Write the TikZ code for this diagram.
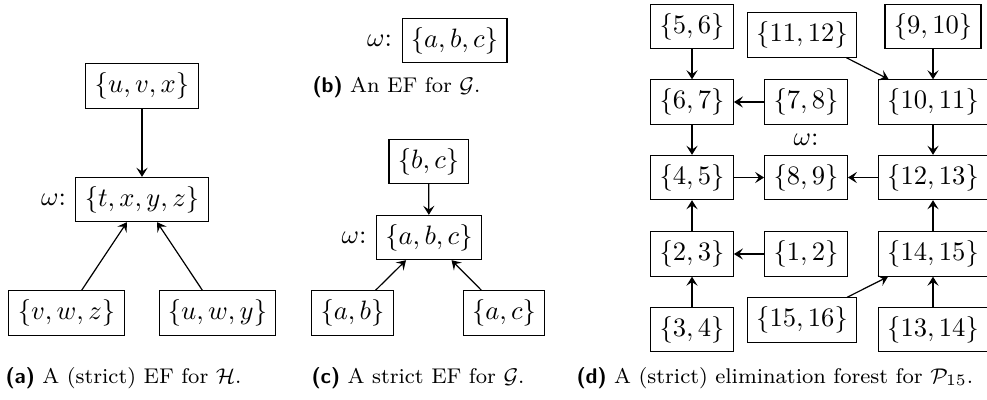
\documentclass[tikz,border=0pt]{standalone}
\usepackage{amsmath}
\usepackage{tikz}
\usetikzlibrary{arrows.meta, positioning}
\tikzset{
  setbox/.style={rectangle, draw, inner sep=3.33pt, line width=0.4pt},
  arrow/.style={-{Stealth[length=3.4pt, width=4.2pt, inset=1.4pt]}, line width=0.45pt},
  subcap/.style={anchor=base west, font=\footnotesize, inner sep=0pt}
}
\newcommand{\subtag}[1]{\textsf{\textbf{(#1)}}}

\begin{document}
\begin{tikzpicture}[x=0.376pt, y=-0.376pt]
  \useasboundingbox (0,0) rectangle (987,399);

  % (a) EF for H
  \node[setbox] (uvx) at (142,86) {$\{u,v,x\}$};
  \node[setbox, label=left:{$\omega$:}] (txyz) at (142,199.5) {$\{t,x,y,z\}$};
  \node[setbox] (vwz) at (66.5,313) {$\{v,w,z\}$};
  \node[setbox] (uwy) at (217.5,313) {$\{u,w,y\}$};
  \draw[arrow] (uvx) -- (txyz);
  \draw[arrow] (vwz) -- (txyz);
  \draw[arrow] (uwy) -- (txyz);
  \node[subcap] (capa) at (5,383) {\subtag{a} A (strict) EF for $\mathcal{H}$.};

  % (b) EF for G
  \node[setbox, label=left:{$\omega$:}] (abcb) at (454.5,40.5) {$\{a,b,c\}$};
  \node[subcap] (capb) at (312,92) {\subtag{b} An EF for $\mathcal{G}$.};

  % (c) strict EF for G
  \node[setbox] (bc) at (428.5,161.5) {$\{b,c\}$};
  \node[setbox, label=left:{$\omega$:}] (abcc) at (429,237.5) {$\{a,b,c\}$};
  \node[setbox] (ab) at (352.5,313) {$\{a,b\}$};
  \node[setbox] (ac) at (504,313) {$\{a,c\}$};
  \draw[arrow] (bc) -- (abcc);
  \draw[arrow] (ab) -- (abcc);
  \draw[arrow] (ac) -- (abcc);
  \node[subcap] (capc) at (311,383) {\subtag{c} A strict EF for $\mathcal{G}$.};

  % (d) elimination forest for P15
  \node[setbox] (p56) at (692,26.5) {$\{5,6\}$};
  \node[setbox] (p1112) at (802,35) {$\{11,12\}$};
  \node[setbox] (p910) at (933,26.5) {$\{9,10\}$};
  \node[setbox] (p67) at (692,102) {$\{6,7\}$};
  \node[setbox] (p78) at (806,102) {$\{7,8\}$};
  \node[setbox] (p1011) at (933,102) {$\{10,11\}$};
  \node[setbox] (p45) at (692,177.5) {$\{4,5\}$};
  \node[setbox, label=above:{$\omega$:}] (p89) at (806,177.5) {$\{8,9\}$};
  \node[setbox] (p1213) at (933,177.5) {$\{12,13\}$};
  \node[setbox] (p23) at (692,254) {$\{2,3\}$};
  \node[setbox] (p12) at (806,254) {$\{1,2\}$};
  \node[setbox] (p1415) at (933,254) {$\{14,15\}$};
  \node[setbox] (p34) at (692,329.5) {$\{3,4\}$};
  \node[setbox] (p1516) at (802,320) {$\{15,16\}$};
  \node[setbox] (p1314) at (933,329.5) {$\{13,14\}$};
  \draw[arrow] (p56) -- (p67);
  \draw[arrow] (p910) -- (p1011);
  \draw[arrow] (p1112) -- (p1011);
  \draw[arrow] (p78) -- (p67);
  \draw[arrow] (p67) -- (p45);
  \draw[arrow] (p1011) -- (p1213);
  \draw[arrow] (p45) -- (p89);
  \draw[arrow] (p1213) -- (p89);
  \draw[arrow] (p23) -- (p45);
  \draw[arrow] (p12) -- (p23);
  \draw[arrow] (p1415) -- (p1213);
  \draw[arrow] (p34) -- (p23);
  \draw[arrow] (p1314) -- (p1415);
  \draw[arrow] (p1516) -- (p1415);
  \node[subcap] (capd) at (576,383) {\subtag{d} A (strict) elimination forest for $\mathcal{P}_{15}$.};
\end{tikzpicture}
\end{document}
